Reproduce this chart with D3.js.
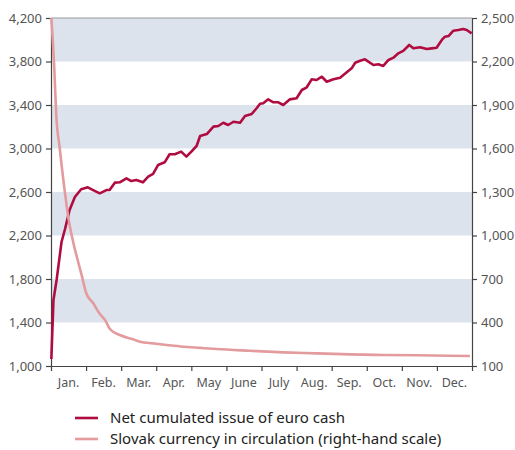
<!DOCTYPE html>
<html>
<head>
<meta charset="utf-8">
<script src="https://cdn.jsdelivr.net/npm/d3@7"></script>
<style>
  body { margin: 0; background: #fff; }
  svg { font-family: "Noto Sans", sans-serif; }
  .tick text { fill: #555; }
</style>
</head>
<body>
<svg id="chart" width="515" height="450"></svg>
<script>
// months elapsed since 1 Jan (x) and values
var months = ['Jan.', 'Feb.', 'Mar.', 'Apr.', 'May', 'June', 'July', 'Aug.', 'Sep.', 'Oct.', 'Nov.', 'Dec.'];

var netX = [0.01, 0.07, 0.16, 0.30, 0.40, 0.53, 0.68, 0.86, 1.05, 1.20, 1.39, 1.58, 1.67, 1.82, 1.96,
  2.15, 2.29, 2.43, 2.62, 2.77, 2.91, 3.05, 3.24, 3.38, 3.53, 3.71, 3.86, 4.00, 4.15, 4.25, 4.44,
  4.63, 4.77, 4.91, 5.05, 5.20, 5.39, 5.53, 5.72, 5.86, 5.96, 6.05, 6.19, 6.34, 6.48, 6.62, 6.81,
  7.00, 7.15, 7.29, 7.43, 7.57, 7.72, 7.86, 8.05, 8.24, 8.43, 8.57, 8.67, 8.81, 8.95, 9.19, 9.33,
  9.47, 9.62, 9.76, 9.90, 10.04, 10.21, 10.33, 10.52, 10.71, 10.85, 10.99, 11.14, 11.23, 11.33,
  11.47, 11.61, 11.75, 11.85, 11.99];
var netValues = [1064, 1607, 1791, 2140, 2260, 2435, 2554, 2625, 2643, 2618, 2588, 2618, 2618, 2686, 2689,
  2726, 2701, 2710, 2689, 2741, 2766, 2848, 2873, 2947, 2947, 2971, 2925, 2971, 3023, 3115, 3133,
  3201, 3207, 3237, 3216, 3246, 3237, 3299, 3317, 3370, 3412, 3416, 3452, 3425, 3425, 3400, 3452,
  3462, 3538, 3563, 3636, 3630, 3660, 3614, 3636, 3651, 3701, 3737, 3789, 3807, 3820, 3768, 3774,
  3759, 3814, 3835, 3875, 3897, 3952, 3921, 3931, 3915, 3921, 3927, 3998, 4028, 4034,
  4083, 4090, 4099, 4090, 4059];

var skkX = [0.01, 0.09, 0.15, 0.25, 0.40, 0.49, 0.63, 0.75, 0.87, 1.0, 1.2, 1.39, 1.54, 1.68, 1.96,
  2.34, 2.54, 2.91, 3.3, 3.77, 4.25, 4.72, 5.67, 6.62, 7.57, 8.52, 9.47, 10.42, 11.37, 11.94];
var skkValues = [2500, 2170, 1831, 1600, 1290, 1130, 957, 840, 730, 605, 534, 460, 417, 355, 314,
  284, 267, 256, 245, 233, 225, 217, 205, 194, 187, 180, 176, 174, 171, 169];

var leftTicks = d3.range(1000, 4201, 400);
var rightTicks = d3.range(100, 2501, 300);

var legendItems = [
  {label: 'Net cumulated issue of euro cash', color: '#b00c40'},
  {label: 'Slovak currency in circulation (right-hand scale)', color: '#e39b9d'}
];

var margin = {top: 18, right: 43, bottom: 84, left: 51},
    width = 515 - margin.left - margin.right,
    height = 450 - margin.top - margin.bottom;

var svg = d3.select('#chart');
var g = svg.append('g').attr('transform', 'translate(' + margin.left + ',' + margin.top + ')');

var x = d3.scaleLinear().domain([0, 12]).range([0, width]);
var yL = d3.scaleLinear().domain([1000, 4200]).range([height, 0]);
var yR = d3.scaleLinear().domain([100, 2500]).range([height, 0]);

// shaded bands
var bands = d3.range(0, leftTicks.length - 1).filter(function(i) { return i % 2 == 1; });
g.selectAll('rect.band').data(bands).enter().append('rect')
    .attr('class', 'band')
    .attr('x', 0)
    .attr('width', width)
    .attr('y', function(i) { return yL(leftTicks[i + 1]); })
    .attr('height', function(i) { return yL(leftTicks[i]) - yL(leftTicks[i + 1]); })
    .attr('fill', '#dde3ed');

// top border
g.append('line').attr('x1', 0).attr('x2', width).attr('y1', 0).attr('y2', 0)
    .attr('stroke', '#9a9a9a').attr('stroke-width', 1);

var fmt = d3.format(',');

var left = g.append('g')
    .call(d3.axisLeft(yL).tickValues(leftTicks).tickFormat(fmt).tickSize(5).tickSizeOuter(0));
var right = g.append('g').attr('transform', 'translate(' + width + ',0)')
    .call(d3.axisRight(yR).tickValues(rightTicks).tickFormat(fmt).tickSize(5).tickSizeOuter(0));
var bottom = g.append('g').attr('transform', 'translate(0,' + height + ')')
    .call(d3.axisBottom(x).tickValues(d3.range(0, 13)).tickFormat('').tickSize(5).tickSizeOuter(0));

[left, right, bottom].forEach(function(a) {
  a.selectAll('path, line').attr('stroke', '#444').attr('stroke-width', 1.2);
  a.selectAll('text').attr('font-size', 13).attr('font-family', '"Noto Sans", sans-serif');
});
left.selectAll('text').attr('x', -9);
right.selectAll('text').attr('x', 9);

g.selectAll('text.month').data(months).enter().append('text')
    .attr('class', 'month')
    .attr('x', function(d, i) { return x(i + 0.5); })
    .attr('y', height + 21)
    .attr('text-anchor', 'middle')
    .attr('font-size', 12.5)
    .attr('fill', '#555')
    .text(function(d) { return d; });

// lines
var netLine = d3.line()
    .x(function(d, i) { return x(netX[i]); })
    .y(function(d) { return yL(d); });
var skkLine = d3.line()
    .x(function(d, i) { return x(skkX[i]); })
    .y(function(d) { return yR(d); })
    .curve(d3.curveMonotoneX);

g.append('path').datum(netValues)
    .attr('d', netLine)
    .attr('fill', 'none')
    .attr('stroke', legendItems[0].color)
    .attr('stroke-width', 2.6)
    .attr('stroke-linejoin', 'round');

g.append('path').datum(skkValues)
    .attr('d', skkLine)
    .attr('fill', 'none')
    .attr('stroke', legendItems[1].color)
    .attr('stroke-width', 2.6)
    .attr('stroke-linejoin', 'round');

// legend
var legend = svg.append('g').attr('transform', 'translate(75,418)');
var item = legend.selectAll('g').data(legendItems).enter().append('g')
    .attr('transform', function(d, i) { return 'translate(0,' + (i * 21) + ')'; });
item.append('line')
    .attr('x1', 0).attr('x2', 23).attr('y1', 0).attr('y2', 0)
    .attr('stroke', function(d) { return d.color; })
    .attr('stroke-width', 2.6);
item.append('text')
    .attr('x', 35).attr('y', 5)
    .attr('font-size', 15)
    .attr('fill', '#222')
    .text(function(d) { return d.label; });
</script>
</body>
</html>
